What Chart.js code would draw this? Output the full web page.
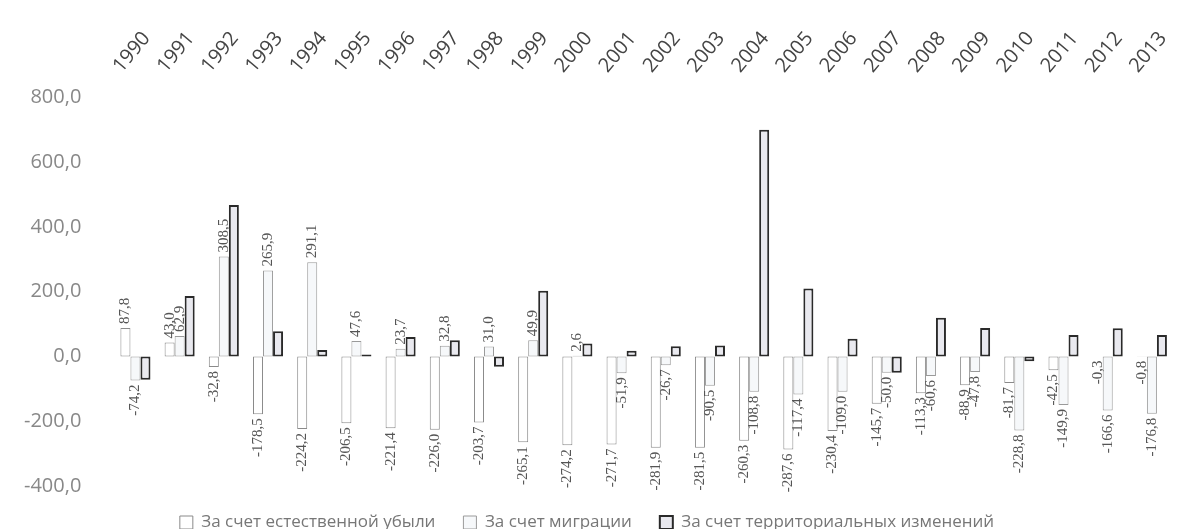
<!DOCTYPE html>
<html>
<head>
<meta charset="utf-8">
<script src="https://cdn.jsdelivr.net/npm/chart.js@4.4.1/dist/chart.umd.min.js"></script>
<style>
    html, body { margin: 0; padding: 0; background: #fff; }
    #wrap { width: 1194px; height: 529px; }
</style>
</head>
<body>
<div id="wrap"><canvas id="populationChart"></canvas></div>
<script>
// ДАННЫЕ
const years = ['1990','1991','1992','1993','1994','1995','1996','1997','1998','1999','2000','2001',
               '2002','2003','2004','2005','2006','2007','2008','2009','2010','2011','2012','2013'];
const naturalDecline = [87.8, 43.0, -32.8, -178.5, -224.2, -206.5, -221.4, -226.0, -203.7, -265.1, -274.2, -271.7,
                        -281.9, -281.5, -260.3, -287.6, -230.4, -145.7, -113.3, -88.9, -81.7, -42.5, -0.3, -0.8];
const migration = [-74.2, 62.9, 308.5, 265.9, 291.1, 47.6, 23.7, 32.8, 31.0, 49.9, 2.6, -51.9,
                   -26.7, -90.5, -108.8, -117.4, -109.0, -50.0, -60.6, -47.8, -228.8, -149.9, -166.6, -176.8];
const territorial = [-72, 187, 468, 78, 20, 6, 60, 50, -32, 203, 40, 18,
                     32, 34, 700, 210, 55, -50, 120, 88, -15, 66, 87, 66];
const seriesNames = ['За счет естественной убыли', 'За счет миграции', 'За счет территориальных изменений'];
const yTicks = [-400, -200, 0, 200, 400, 600, 800];

function formatRu(v) {
    return v.toFixed(1).replace('.', ',');
}

// Подписи значений (повернуты на 90°)
const barLabels = {
    id: 'barLabels',
    afterDatasetsDraw(chart) {
        const ctx = chart.ctx;
        [0, 1].forEach(di => {
            const meta = chart.getDatasetMeta(di);
            const values = chart.data.datasets[di].data;
            meta.data.forEach((bar, i) => {
                const v = values[i];
                ctx.save();
                ctx.translate(bar.x, v >= 0 ? bar.y - 4 : bar.y + 4);
                ctx.rotate(-Math.PI / 2);
                ctx.textAlign = v >= 0 ? 'left' : 'right';
                ctx.textBaseline = 'middle';
                ctx.font = '15px "Liberation Serif", serif';
                ctx.fillStyle = '#555';
                ctx.fillText(formatRu(v), 0, 0);
                ctx.restore();
            });
        });
    }
};

new Chart(document.getElementById('populationChart'), {
    type: 'bar',
    data: {
        labels: years,
        datasets: [{
            label: seriesNames[0],
            data: naturalDecline,
            backgroundColor: '#ffffff',
            borderColor: '#8a8a8a',
            borderWidth: 1,
            borderSkipped: false
        }, {
            label: seriesNames[1],
            data: migration,
            backgroundColor: '#f6f8fa',
            borderColor: '#9a9a9a',
            borderWidth: 1,
            borderSkipped: false
        }, {
            label: seriesNames[2],
            data: territorial,
            backgroundColor: '#e9e9ef',
            borderColor: '#2a2a2a',
            borderWidth: 2,
            borderSkipped: false
        }]
    },
    options: {
        responsive: true,
        maintainAspectRatio: false,
        animation: false,
        layout: { padding: { left: 0, right: 20, top: 15, bottom: -12 } },
        datasets: {
            bar: { categoryPercentage: 0.68, barPercentage: 1.0 }
        },
        plugins: {
            legend: {
                position: 'bottom',
                labels: {
                    color: '#777',
                    boxWidth: 13,
                    boxHeight: 13,
                    padding: 28,
                    font: { family: '"Open Sans"', size: 17 }
                }
            },
            tooltip: { enabled: false }
        },
        scales: {
            x: {
                position: 'top',
                grid: { display: false },
                border: { display: false },
                ticks: {
                    color: '#444',
                    minRotation: 50,
                    maxRotation: 50,
                    padding: 12,
                    font: { family: '"Open Sans"', size: 20 }
                }
            },
            y: {
                min: -400,
                max: 800,
                grid: { display: false },
                border: { display: false },
                afterBuildTicks(axis) {
                    axis.ticks = yTicks.map(v => ({ value: v }));
                },
                ticks: {
                    color: '#888',
                    padding: 24,
                    font: { family: '"Open Sans"', size: 20 },
                    callback: v => formatRu(v)
                }
            }
        }
    },
    plugins: [barLabels]
});
</script>
</body>
</html>
